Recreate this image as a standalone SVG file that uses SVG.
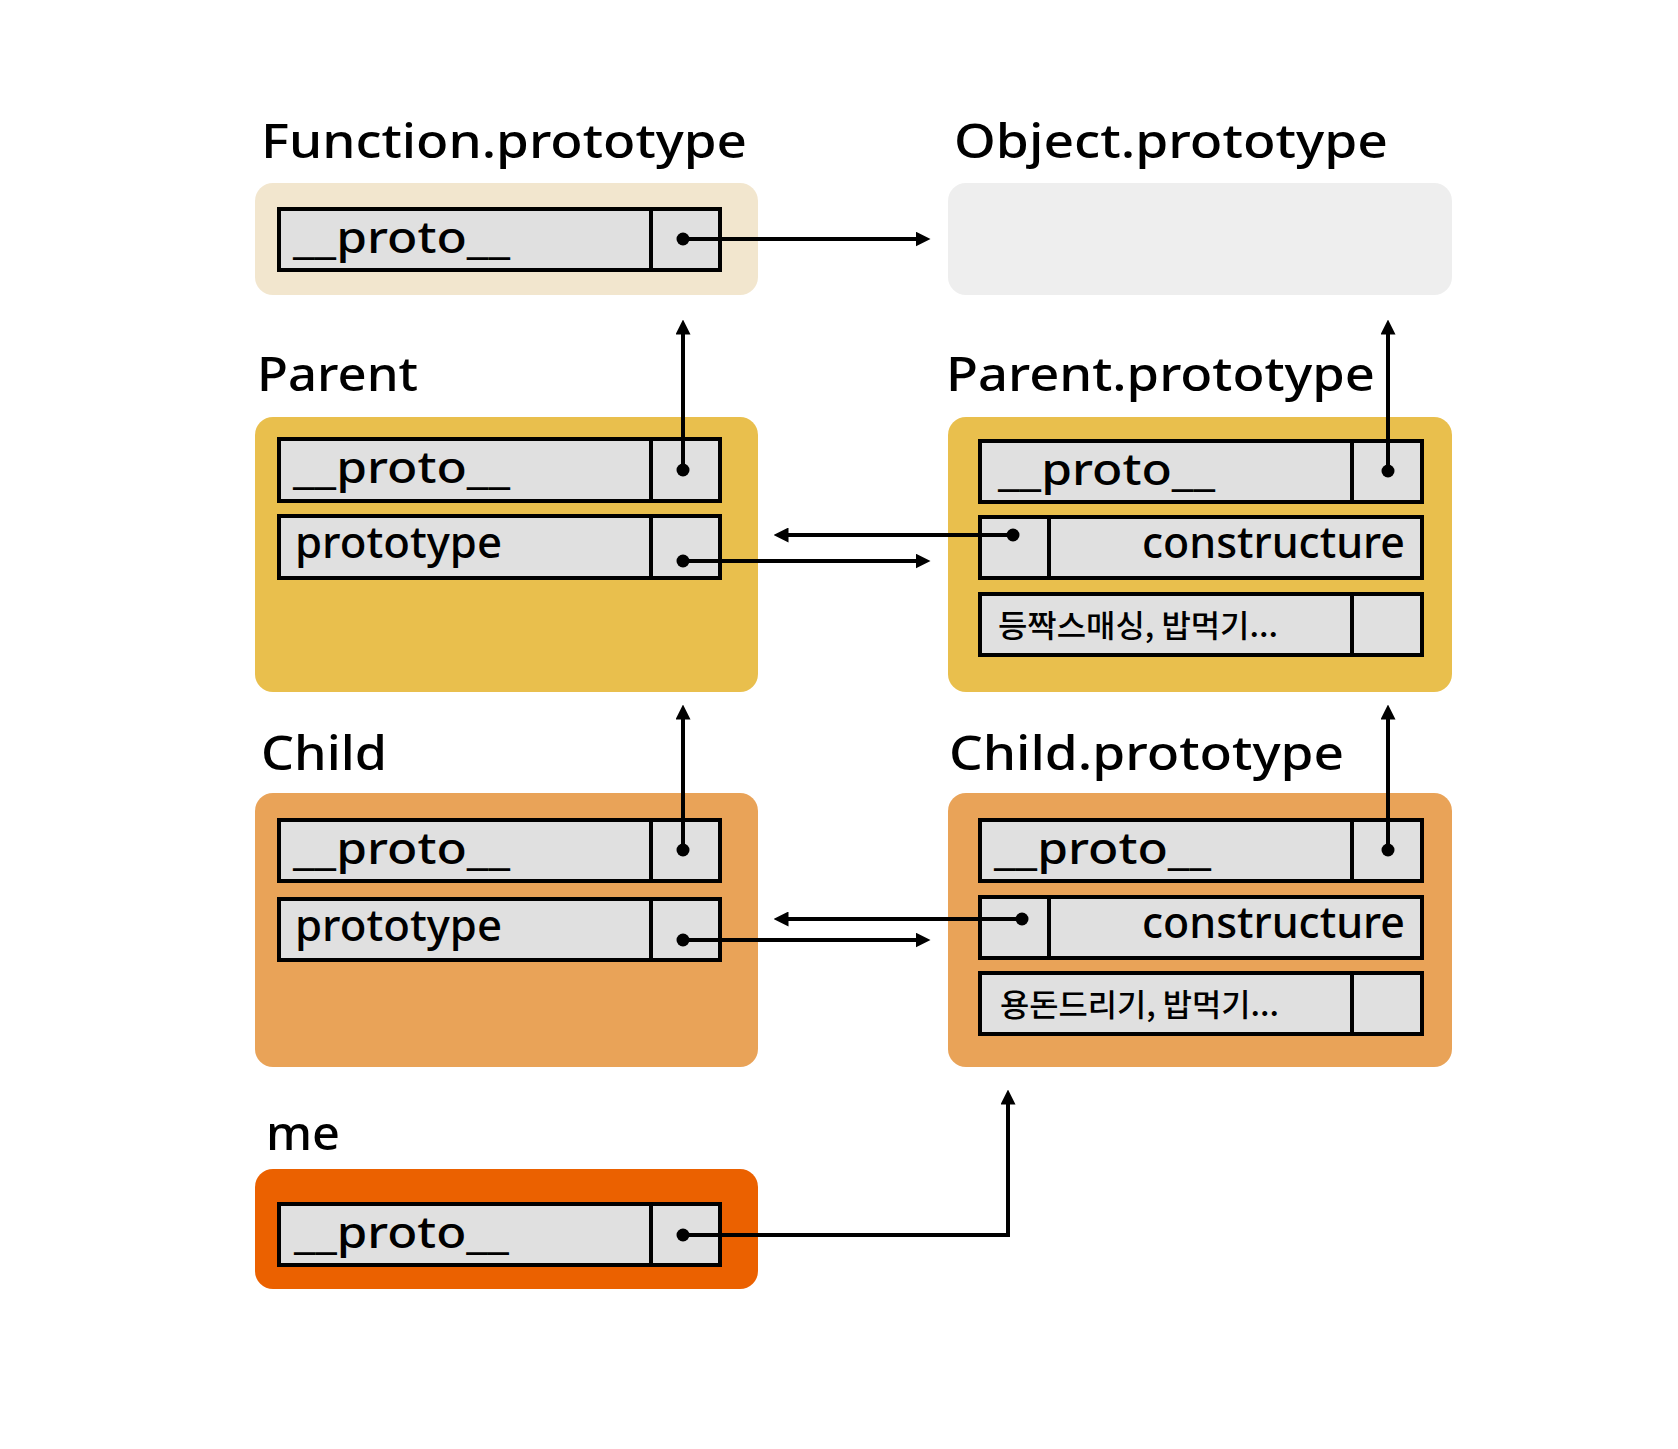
<svg xmlns="http://www.w3.org/2000/svg" width="1678" height="1449" viewBox="0 0 1678 1449">
<style>
.title{font-family:"Noto Sans","Liberation Sans",sans-serif;font-size:48px;font-weight:500;fill:#000}
.lbl{font-family:"Noto Sans","Liberation Sans",sans-serif;font-size:44px;font-weight:500;fill:#000}
.kor{font-family:"Noto Sans CJK KR","Noto Sans",sans-serif;font-size:31px;font-weight:500;fill:#000}
.row{fill:#E0E0E0;stroke:#000;stroke-width:4}
.div{stroke:#000;stroke-width:4}
.conn{fill:none;stroke:#000;stroke-width:4}
.dot{fill:#000}
</style>
<defs>
<marker id="ah" markerUnits="userSpaceOnUse" viewBox="0 0 15 15" markerWidth="15" markerHeight="15" refX="0.5" refY="7.5" orient="auto">
<path d="M0,0 L15,7.5 L0,15 z" fill="#000"/>
</marker>
</defs>
<rect width="1678" height="1449" fill="#fff"/>

<g id="function-prototype">
<text class="title" x="261" y="158" textLength="486" lengthAdjust="spacingAndGlyphs">Function.prototype</text>
<rect x="255" y="183" width="503" height="112" rx="18" fill="#F2E6CE"/>
<rect class="row" x="279" y="209" width="441" height="61"/>
<line class="div" x1="651" y1="209" x2="651" y2="270"/>
<text class="lbl" x="293" y="253" textLength="217" lengthAdjust="spacingAndGlyphs">__proto__</text>
</g>

<g id="object-prototype">
<text class="title" x="954" y="158" textLength="434" lengthAdjust="spacingAndGlyphs">Object.prototype</text>
<rect x="948" y="183" width="504" height="112" rx="18" fill="#EEEEEE"/>
</g>

<g id="parent">
<text class="title" x="257" y="391" textLength="161" lengthAdjust="spacingAndGlyphs">Parent</text>
<rect x="255" y="417" width="503" height="275" rx="18" fill="#E9BF4D"/>
<rect class="row" x="279" y="439" width="441" height="62"/>
<line class="div" x1="651" y1="439" x2="651" y2="501"/>
<text class="lbl" x="293" y="483" textLength="217" lengthAdjust="spacingAndGlyphs">__proto__</text>
<rect class="row" x="279" y="516" width="441" height="62"/>
<line class="div" x1="651" y1="516" x2="651" y2="578"/>
<text class="lbl" x="295" y="558" textLength="207" lengthAdjust="spacingAndGlyphs">prototype</text>
</g>

<g id="parent-prototype">
<text class="title" x="946" y="391" textLength="429" lengthAdjust="spacingAndGlyphs">Parent.prototype</text>
<rect x="948" y="417" width="504" height="275" rx="18" fill="#E9BF4D"/>
<rect class="row" x="980" y="441" width="442" height="61"/>
<line class="div" x1="1352" y1="441" x2="1352" y2="502"/>
<text class="lbl" x="998" y="485" textLength="217" lengthAdjust="spacingAndGlyphs">__proto__</text>
<rect class="row" x="980" y="517" width="442" height="61"/>
<line class="div" x1="1049" y1="517" x2="1049" y2="578"/>
<text class="lbl" x="1142" y="558" textLength="263" lengthAdjust="spacingAndGlyphs">constructure</text>
<rect class="row" x="980" y="594" width="442" height="61"/>
<line class="div" x1="1352" y1="594" x2="1352" y2="655"/>
<text class="kor" x="998" y="637" textLength="280" lengthAdjust="spacingAndGlyphs">등짝스매싱, 밥먹기...</text>
</g>

<g id="child">
<text class="title" x="261" y="770" textLength="126" lengthAdjust="spacingAndGlyphs">Child</text>
<rect x="255" y="793" width="503" height="274" rx="18" fill="#E9A358"/>
<rect class="row" x="279" y="820" width="441" height="61"/>
<line class="div" x1="651" y1="820" x2="651" y2="881"/>
<text class="lbl" x="293" y="864" textLength="217" lengthAdjust="spacingAndGlyphs">__proto__</text>
<rect class="row" x="279" y="899" width="441" height="61"/>
<line class="div" x1="651" y1="899" x2="651" y2="960"/>
<text class="lbl" x="295" y="941" textLength="207" lengthAdjust="spacingAndGlyphs">prototype</text>
</g>

<g id="child-prototype">
<text class="title" x="949" y="770" textLength="395" lengthAdjust="spacingAndGlyphs">Child.prototype</text>
<rect x="948" y="793" width="504" height="274" rx="18" fill="#E9A358"/>
<rect class="row" x="980" y="820" width="442" height="61"/>
<line class="div" x1="1352" y1="820" x2="1352" y2="881"/>
<text class="lbl" x="994" y="864" textLength="217" lengthAdjust="spacingAndGlyphs">__proto__</text>
<rect class="row" x="980" y="897" width="442" height="61"/>
<line class="div" x1="1049" y1="897" x2="1049" y2="958"/>
<text class="lbl" x="1142" y="938" textLength="263" lengthAdjust="spacingAndGlyphs">constructure</text>
<rect class="row" x="980" y="973" width="442" height="61"/>
<line class="div" x1="1352" y1="973" x2="1352" y2="1034"/>
<text class="kor" x="1000" y="1016" textLength="279" lengthAdjust="spacingAndGlyphs">용돈드리기, 밥먹기...</text>
</g>

<g id="me">
<text class="title" x="266" y="1150" textLength="74" lengthAdjust="spacingAndGlyphs">me</text>
<rect x="255" y="1169" width="503" height="120" rx="18" fill="#EB6100"/>
<rect class="row" x="279" y="1204" width="441" height="61"/>
<line class="div" x1="651" y1="1204" x2="651" y2="1265"/>
<text class="lbl" x="294" y="1248" textLength="215" lengthAdjust="spacingAndGlyphs">__proto__</text>
</g>

<g id="connectors">
<path class="conn" d="M683,239 H916" marker-end="url(#ah)"/>
<path class="conn" d="M683,470 V334" marker-end="url(#ah)"/>
<path class="conn" d="M1388,471 V334" marker-end="url(#ah)"/>
<path class="conn" d="M683,561 H916" marker-end="url(#ah)"/>
<path class="conn" d="M1013,535 H788" marker-end="url(#ah)"/>
<path class="conn" d="M683,850 V719" marker-end="url(#ah)"/>
<path class="conn" d="M1388,850 V719" marker-end="url(#ah)"/>
<path class="conn" d="M683,940 H916" marker-end="url(#ah)"/>
<path class="conn" d="M1022,919 H788" marker-end="url(#ah)"/>
<path class="conn" d="M683,1235 H1008 V1104" marker-end="url(#ah)"/>
<circle class="dot" cx="683" cy="239" r="6.5"/>
<circle class="dot" cx="683" cy="470" r="6.5"/>
<circle class="dot" cx="1388" cy="471" r="6.5"/>
<circle class="dot" cx="683" cy="561" r="6.5"/>
<circle class="dot" cx="1013" cy="535" r="6.5"/>
<circle class="dot" cx="683" cy="850" r="6.5"/>
<circle class="dot" cx="1388" cy="850" r="6.5"/>
<circle class="dot" cx="683" cy="940" r="6.5"/>
<circle class="dot" cx="1022" cy="919" r="6.5"/>
<circle class="dot" cx="683" cy="1235" r="6.5"/>
</g>
</svg>
